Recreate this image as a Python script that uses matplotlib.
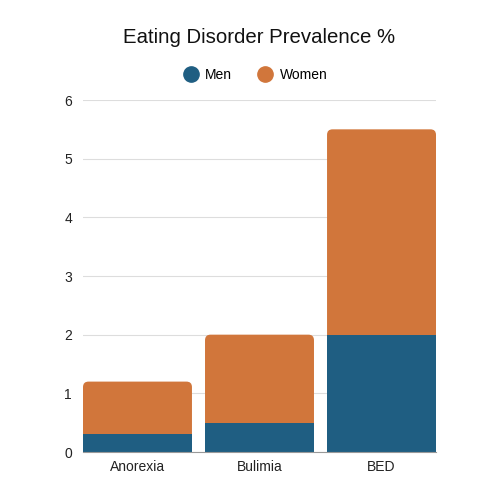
import matplotlib.pyplot as plt
from matplotlib.patches import FancyBboxPatch
from matplotlib.lines import Line2D

plt.rcParams["font.family"] = ["Liberation Sans", "DejaVu Sans"]

categories = ["Anorexia", "Bulimia", "BED"]
men = [0.3, 0.5, 2.0]
women = [0.9, 1.5, 3.5]
yticks = [0, 1, 2, 3, 4, 5, 6]

men_color = "#1f5e82"
women_color = "#d1763b"

fig = plt.figure(figsize=(5, 5), dpi=100)
ax = fig.add_axes([0.166, 0.096, 0.706, 0.704])

width = 0.893
x = list(range(len(categories)))

# women bar drawn full height with rounded corners, men bar over the bottom
totals = [m + w for m, w in zip(men, women)]
ghost = ax.bar(x, totals, width=width, color="none", zorder=2)
for rect in ghost:
    box = FancyBboxPatch(
        (rect.get_x(), 0),
        rect.get_width(),
        rect.get_height(),
        boxstyle="round,pad=0,rounding_size=0.045",
        mutation_aspect=2.08,
        facecolor=women_color,
        edgecolor="none",
        zorder=2,
    )
    ax.add_patch(box)
ax.bar(x, men, width=width, color=men_color, zorder=3)

ax.set_xlim(-width / 2, len(categories) - 1 + width / 2)
ax.set_ylim(0, 6)
ax.set_yticks(yticks)
ax.set_xticks(x)
ax.set_xticklabels(categories)
ax.tick_params(axis="both", length=0, labelsize=10, colors="#222222")
ax.tick_params(axis="y", pad=8)
ax.tick_params(axis="x", pad=6)
ax.grid(axis="y", color="#dddddd", linewidth=0.8, zorder=0)
for side in ["top", "right", "left"]:
    ax.spines[side].set_visible(False)
ax.spines["bottom"].set_color("#999999")
ax.spines["bottom"].set_linewidth(0.8)
ax.spines["bottom"].set_zorder(4)

fig.text(0.518, 0.925, "Eating Disorder Prevalence %", ha="center", va="center",
         fontsize=14.7, color="#111111")

handles = [
    Line2D([], [], marker="o", linestyle="none", markersize=11, color=men_color, label="Men"),
    Line2D([], [], marker="o", linestyle="none", markersize=11, color=women_color, label="Women"),
]
fig.legend(handles=handles, loc="center", bbox_to_anchor=(0.51, 0.85), ncol=2,
           frameon=False, fontsize=10, handletextpad=0.42, columnspacing=1.8,
           handlelength=1.2)

fig.savefig("out.png", dpi=100)
